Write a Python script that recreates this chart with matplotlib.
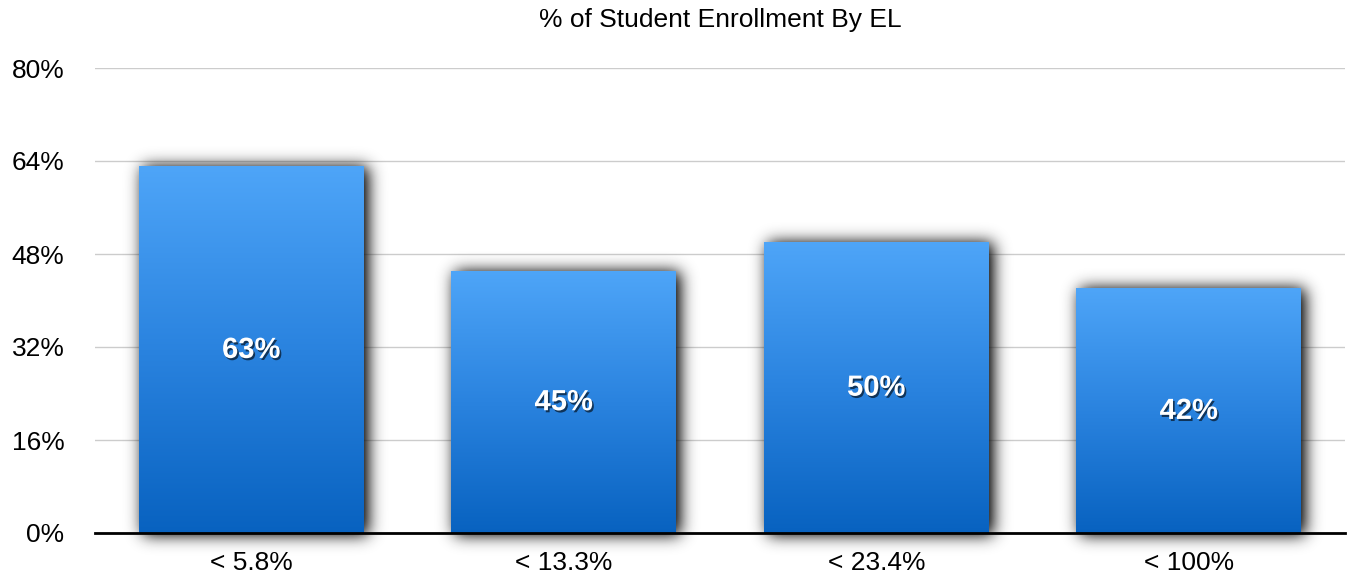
import numpy as np
import matplotlib
matplotlib.use("Agg")
import matplotlib.pyplot as plt
import matplotlib.patheffects as pe
from matplotlib.colors import LinearSegmentedColormap

categories = ["< 5.8%", "< 13.3%", "< 23.4%", "< 100%"]
enrollment = [63, 45, 50, 42]
yticks = [0, 16, 32, 48, 64, 80]

plt.rcParams["font.family"] = ["Liberation Sans", "DejaVu Sans"]

fig = plt.figure(figsize=(13.51, 5.77), dpi=100)
W, H = 1351, 577
ax = fig.add_axes([95 / W, (577 - 533) / H, 1250 / W, 465 / H])

x = np.arange(len(categories))
width = 0.72
xlim = (-0.5, len(categories) - 0.5)
ylim = (0, 80)

# soft drop shadow: rasterised bar mask, blurred with a gaussian kernel
px_x = 1250 / (xlim[1] - xlim[0])
px_y = 465 / (ylim[1] - ylim[0])
sh_lo = -8
nx, ny = 1250, int(round((ylim[1] - sh_lo) * px_y))
gx = np.linspace(xlim[0], xlim[1], nx)
gy = np.linspace(sh_lo, ylim[1], ny)
XX, YY = np.meshgrid(gx, gy)
mask = np.zeros_like(XX)
shift = 4 / px_x
for xi, v in zip(x, enrollment):
    inside = (XX >= xi - width / 2 + shift) & (XX <= xi + width / 2 + shift) \
        & (YY >= -2 / px_y) & (YY <= v)
    mask[inside] = 1.0

def blur(a, sigma):
    r = int(3 * sigma)
    k = np.exp(-0.5 * (np.arange(-r, r + 1) / sigma) ** 2)
    k /= k.sum()
    a = np.apply_along_axis(lambda m: np.convolve(m, k, mode="same"), 0, a)
    a = np.apply_along_axis(lambda m: np.convolve(m, k, mode="same"), 1, a)
    return a

shadow = blur(mask, 8.0)
rgba = np.zeros((ny, nx, 4))
rgba[..., :3] = 0.1
rgba[..., 3] = np.clip(shadow * 1.25, 0, 1)
ax.imshow(rgba, extent=(xlim[0], xlim[1], sh_lo, ylim[1]), origin="lower",
          aspect="auto", zorder=1.5, clip_on=False, interpolation="bilinear")

# bars with vertical blue gradient
cmap = LinearSegmentedColormap.from_list("bar", ["#0862C0", "#2A83DF", "#4EA5F8"])
grad = np.linspace(0, 1, 256).reshape(-1, 1)
for xi, v in zip(x, enrollment):
    ax.imshow(grad, extent=(xi - width / 2, xi + width / 2, 0, v), origin="lower",
              aspect="auto", cmap=cmap, zorder=2)
    ax.text(xi, v / 2, f"{v}%", ha="center", va="center", color="white",
            fontsize=21, fontweight="bold",
            family=["Liberation Sans Narrow", "Liberation Sans", "DejaVu Sans"],
            zorder=4,
            path_effects=[pe.withSimplePatchShadow(offset=(1.2, -1.5),
                                                   shadow_rgbFace="black", alpha=0.6)])

ax.set_xlim(*xlim)
ax.set_ylim(*ylim)
ax.set_yticks(yticks)
ax.set_yticklabels([f"{t}%" for t in yticks])
ax.set_xticks(x)
ax.set_xticklabels(categories)
ax.tick_params(axis="both", length=0, labelsize=19, colors="black")
ax.tick_params(axis="y", pad=22)
ax.tick_params(axis="x", pad=13)

ax.grid(axis="y", color="#cccccc", linewidth=1)
ax.set_axisbelow(True)
for s in ["top", "right", "left"]:
    ax.spines[s].set_visible(False)
ax.spines["bottom"].set_linewidth(2)
ax.spines["bottom"].set_zorder(3)

fig.text(720 / W, 1 - 20 / H, "% of Student Enrollment By EL", ha="center",
         va="center", fontsize=19)

fig.savefig("out.png", dpi=100)
